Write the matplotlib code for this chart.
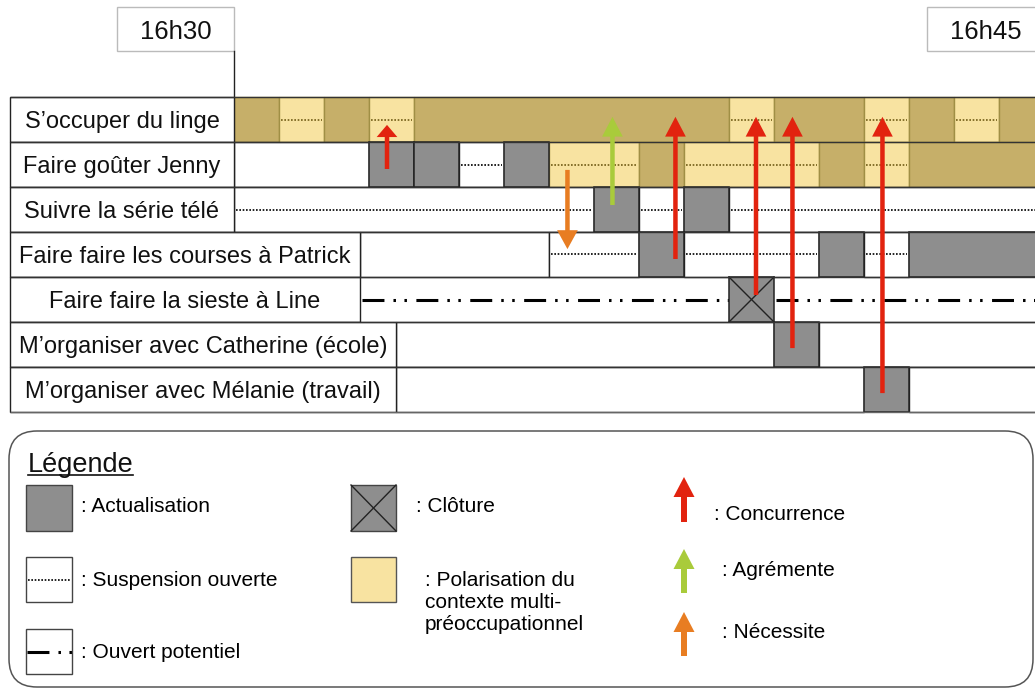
import matplotlib
matplotlib.use('Agg')
import matplotlib.pyplot as plt
from matplotlib.patches import Rectangle, FancyArrow, FancyBboxPatch

plt.rcParams['font.family'] = ['Liberation Sans', 'DejaVu Sans']
plt.rcParams['lines.scale_dashes'] = False

# ---------------- data ----------------
tasks = [
    "S’occuper du linge",
    "Faire goûter Jenny",
    "Suivre la série télé",
    "Faire faire les courses à Patrick",
    "Faire faire la sieste à Line",
    "M’organiser avec Catherine (école)",
    "M’organiser avec Mélanie (travail)",
]
# end of label column (in time cells, 0 = 16h30)
label_end = [0, 0, 0, 2.8, 2.8, 3.6, 3.6]

# kinds: PA polarised actualisation, PS polarised suspension, A actualisation,
#        S suspension ouverte, E empty, O ouvert potentiel, C clôture
seg_row0 = [(0, 1, 'PA'), (1, 2, 'PS'), (2, 3, 'PA'), (3, 4, 'PS'), (4, 11, 'PA'),
            (11, 12, 'PS'), (12, 14, 'PA'), (14, 15, 'PS'), (15, 16, 'PA'),
            (16, 17, 'PS'), (17, 18, 'PA')]
seg_row1 = [(0, 3, 'E'), (3, 4, 'A'), (4, 5, 'A'), (5, 6, 'S'), (6, 7, 'A'),
            (7, 9, 'PS'), (9, 10, 'PA'), (10, 13, 'PS'), (13, 14, 'PA'),
            (14, 15, 'PS'), (15, 18, 'PA')]
seg_row2 = [(0, 8, 'S'), (8, 9, 'A'), (9, 10, 'S'), (10, 11, 'A'), (11, 18, 'S')]
seg_row3 = [(2.8, 7, 'E'), (7, 9, 'S'), (9, 10, 'A'), (10, 13, 'S'), (13, 14, 'A'),
            (14, 15, 'S'), (15, 18, 'A')]
seg_row4 = [(2.8, 11, 'O'), (11, 12, 'C'), (12, 18, 'O')]
seg_row5 = [(3.6, 12, 'E'), (12, 13, 'A'), (13, 18, 'E')]
seg_row6 = [(3.6, 14, 'E'), (14, 15, 'A'), (15, 18, 'E')]
segments = [seg_row0, seg_row1, seg_row2, seg_row3, seg_row4, seg_row5, seg_row6]

time_labels = ['16h30', '16h45']
time_marks = [0, 18]

arrow_x = [3.4, 8.41, 7.41, 9.81, 11.6, 12.41, 14.41]
arrow_from = [1.6, 2.4, 1.62, 3.6, 4.4, 5.58, 6.58]
arrow_to = [0.62, 0.44, 3.38, 0.44, 0.44, 0.44, 0.44]
arrow_kind = ['Concurrence', 'Agrémente', 'Nécessite', 'Concurrence',
              'Concurrence', 'Concurrence', 'Concurrence']

# ---------------- styles ----------------
GRAY = '#8E8E8E'
TAN = '#C6AF69'
LIGHT = '#F8E3A1'
OLIVE = '#A08F45'
DOT_TAN = '#85702A'
ARROW_COL = {'Concurrence': '#E2230F', 'Agrémente': '#A9CB3B', 'Nécessite': '#E87D22'}
DOTTED = (0, (1.2, 1.2))
DASHDOT = (0, (15.8, 6.5, 1.8, 6.1, 1.8, 6.8))
head_len = [0.27, 0.44, 0.42, 0.44, 0.44, 0.44, 0.44]

W, H = 1035, 689
U = 45.0           # pixels per cell
X0, Y0 = 234, 97   # pixel position of time 0 / first row
TOP_H = 420

fig = plt.figure(figsize=(W / 100, H / 100), dpi=100)

# legend axes in pixel coordinates
lax = fig.add_axes([0, 0, 1, 1])
lax.set_xlim(0, W)
lax.set_ylim(H, 0)
lax.axis('off')

# main chart axes in cell units
ax = fig.add_axes([0, 1 - TOP_H / H, 1, TOP_H / H])
ax.set_xlim(-X0 / U, (W - X0) / U)
ax.set_ylim((TOP_H - Y0) / U, -Y0 / U)
ax.axis('off')

LEFT = -(X0 - 10) / U
RIGHT = (W - X0) / U

for i, segs in enumerate(segments):
    for (a, b, k) in segs:
        if k == 'PA':
            ax.add_patch(Rectangle((a, i), b - a, 1, fc=TAN, ec=OLIVE, lw=1, zorder=2))
        elif k == 'PS':
            ax.add_patch(Rectangle((a, i), b - a, 1, fc=LIGHT, ec=OLIVE, lw=1, zorder=2))
            ax.plot([a + 0.05, b - 0.05], [i + 0.5, i + 0.5], color=DOT_TAN, lw=1.4,
                    ls=DOTTED, zorder=3)
        elif k == 'A':
            ax.add_patch(Rectangle((a, i), b - a, 1, fc=GRAY, ec='#222222', lw=1.1, zorder=3))
        elif k == 'S':
            ax.add_patch(Rectangle((a, i), b - a, 1, fc='white', ec='#222222', lw=1, zorder=2))
            ax.plot([a + 0.05, b - 0.05], [i + 0.5, i + 0.5], color='#111111', lw=1.3,
                    ls=DOTTED, zorder=3)
        elif k == 'E':
            ax.add_patch(Rectangle((a, i), b - a, 1, fc='white', ec='#222222', lw=1, zorder=2))
        elif k == 'O':
            ax.plot([a + 0.04, b], [i + 0.5, i + 0.5], color='black', lw=2.2,
                    ls=DASHDOT, solid_capstyle='butt', dash_capstyle='butt', zorder=3)
        elif k == 'C':
            ax.add_patch(Rectangle((a, i), b - a, 1, fc=GRAY, ec='#222222', lw=1.1, zorder=3))
            ax.plot([a, b], [i, i + 1], color='#222222', lw=1, zorder=4)
            ax.plot([a, b], [i + 1, i], color='#222222', lw=1, zorder=4)
    # label box
    ax.add_patch(Rectangle((LEFT, i), label_end[i] - LEFT, 1, fc='white',
                           ec='#222222', lw=1, zorder=5))
    ax.text((LEFT + label_end[i]) / 2, i + 0.5, tasks[i], fontsize=17,
            ha='center', va='center_baseline', zorder=6, color='#111111')

# horizontal row lines
for r in range(len(tasks) + 1):
    ax.plot([LEFT, RIGHT], [r, r], color='#333333' if r < len(tasks) else '#666666',
            lw=1, zorder=7, solid_capstyle='butt')

# time boxes
for t, lab in zip(time_marks, time_labels):
    ax.add_patch(Rectangle((t - 2.6, -2.0), 2.6, 0.98, fc='white', ec='#BBBBBB',
                           lw=1, zorder=2))
    ax.text(t - 1.3, -1.5, lab, fontsize=18.5, ha='center', va='center_baseline',
            color='#111111')
    ax.plot([t, t], [-1.02, 0], color='#222222', lw=1)

# arrows
for x, y0, y1, k, hl in zip(arrow_x, arrow_from, arrow_to, arrow_kind, head_len):
    ax.add_patch(FancyArrow(x, y0, 0, y1 - y0, width=0.1, head_width=0.46,
                            head_length=hl, length_includes_head=True,
                            fc=ARROW_COL[k], ec='none', zorder=10))

# ---------------- legend (pixel coords) ----------------
lax.add_patch(FancyBboxPatch((9, 431), 1024, 256,
                             boxstyle='round,pad=0,rounding_size=28',
                             fc='white', ec='#555555', lw=1.1))
lax.text(28, 472, 'Légende', fontsize=19.5, ha='left', va='baseline', color='#111111')
lax.plot([28, 133], [475, 475], color='#111111', lw=1.2)

LEG_TXT = 15
# Actualisation
lax.add_patch(Rectangle((26, 485), 46, 46, fc=GRAY, ec='#444444', lw=1))
lax.text(81, 504, ': Actualisation', fontsize=LEG_TXT, va='center_baseline')
# Suspension ouverte
lax.add_patch(Rectangle((26, 557), 46, 45, fc='white', ec='#444444', lw=1))
lax.plot([28, 70], [579.5, 579.5], color='#111111', lw=1.3, ls=DOTTED)
lax.text(81, 579, ': Suspension ouverte', fontsize=LEG_TXT, va='center_baseline')
# Ouvert potentiel
lax.add_patch(Rectangle((26, 629), 46, 45, fc='white', ec='#444444', lw=1))
lax.plot([27, 72], [651.5, 651.5], color='black', lw=2.2, ls=DASHDOT,
         dash_capstyle='butt')
lax.text(81, 651, ': Ouvert potentiel', fontsize=LEG_TXT, va='center_baseline')
# Clôture
lax.add_patch(Rectangle((351, 485), 45, 46, fc=GRAY, ec='#444444', lw=1))
lax.plot([351, 396], [485, 531], color='#222222', lw=1)
lax.plot([351, 396], [531, 485], color='#222222', lw=1)
lax.text(416, 504, ': Clôture', fontsize=LEG_TXT, va='center_baseline')
# Polarisation
lax.add_patch(Rectangle((351, 557), 45, 45, fc=LIGHT, ec='#555555', lw=1))
for j, line in enumerate([': Polarisation du', 'contexte multi-', 'préoccupationnel']):
    lax.text(425, 578 + 22 * j, line, fontsize=LEG_TXT, va='center_baseline')
# arrows
for (k, y_tail, y_tip, tx, ty) in [('Concurrence', 522, 477, 714, 513),
                                   ('Agrémente', 593, 549, 722, 568),
                                   ('Nécessite', 656, 612, 722, 630)]:
    lax.add_patch(FancyArrow(684, y_tail, 0, y_tip - y_tail, width=6, head_width=21,
                             head_length=20, length_includes_head=True,
                             fc=ARROW_COL[k], ec='none'))
    lax.text(tx, ty, ': ' + k, fontsize=LEG_TXT, va='center_baseline')

fig.savefig('out.png', dpi=100)
